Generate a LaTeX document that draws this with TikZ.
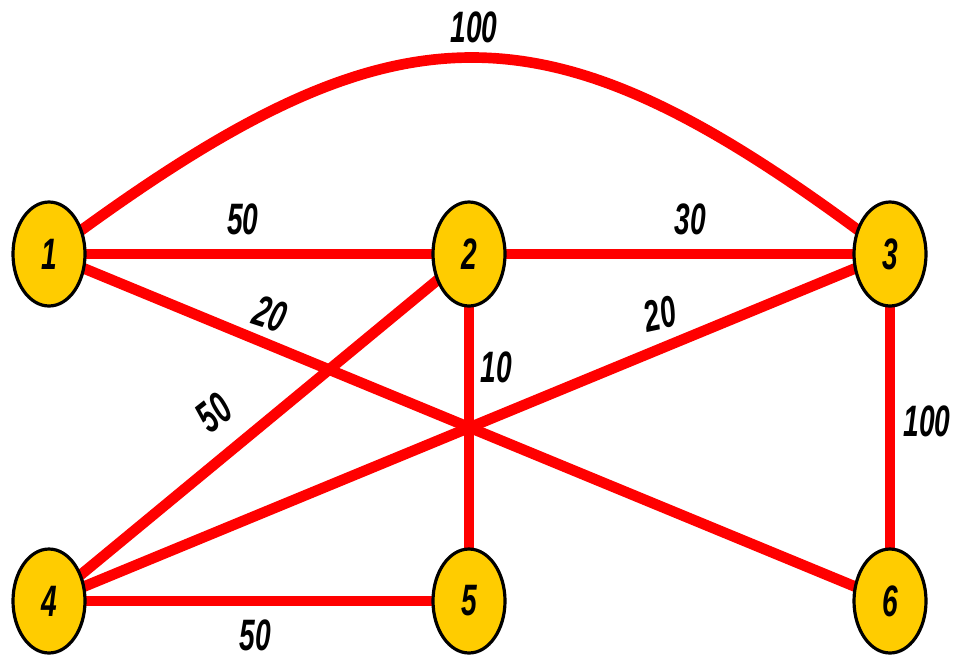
\documentclass[tikz,border=0pt]{standalone}
\usepackage{fontspec}
\usepackage{graphicx}
\usetikzlibrary{shapes.geometric}
\newfontfamily\labfont{Liberation Sans}
\definecolor{nodeyellow}{RGB}{255,204,0}
\definecolor{edgered}{RGB}{255,0,0}
\newcommand{\lab}[1]{\scalebox{0.64}[1]{\labfont\bfseries\itshape\fontsize{33}{33}\selectfont #1}}
\tikzset{
  vert/.style={ellipse, draw=black, line width=2.4pt, fill=nodeyellow,
    minimum width=54pt, minimum height=78pt, inner sep=0pt},
  edge/.style={draw=edgered, line width=8pt},
  wlab/.style={inner sep=0pt, text=black}
}
\begin{document}
\begin{tikzpicture}[x=0.75pt, y=-0.75pt]
\useasboundingbox (0,0) rectangle (955,658);
% edges first (behind nodes)
\coordinate (c1) at (49,254);
\coordinate (c2) at (469,254);
\coordinate (c3) at (890,254);
\coordinate (c4) at (49,601);
\coordinate (c5) at (469,601);
\coordinate (c6) at (890,601);
\draw[edge] (c1) .. controls (400,-8) and (545,-8) .. (c3);
\draw[edge] (c1) -- (c2);
\draw[edge] (c2) -- (c3);
\draw[edge] (c1) -- (c6);
\draw[edge] (c2) -- (c4);
\draw[edge] (c3) -- (c4);
\draw[edge] (c2) -- (c5);
\draw[edge] (c3) -- (c6);
\draw[edge] (c4) -- (c5);
% nodes
\node[vert] (n1) at (c1) {\lab{1}};
\node[vert] (n2) at (c2) {\lab{2}};
\node[vert] (n3) at (c3) {\lab{3}};
\node[vert] (n4) at (c4) {\lab{4}};
\node[vert] (n5) at (c5) {\lab{5}};
\node[vert] (n6) at (c6) {\lab{6}};
% weights
\node[wlab] (w13) at (474,27) {\lab{100}};
\node[wlab] (w12) at (243,219) {\lab{50}};
\node[wlab] (w23) at (690,219) {\lab{30}};
\node[wlab, rotate=-18] (w16) at (270,314) {\lab{20}};
\node[wlab, rotate=12] (w34) at (660,314) {\lab{20}};
\node[wlab] (w25) at (496,367) {\lab{10}};
\node[wlab, rotate=38] (w24) at (214,413) {\lab{50}};
\node[wlab] (w36) at (927,421) {\lab{100}};
\node[wlab] (w45) at (255,635) {\lab{50}};
\end{tikzpicture}
\end{document}
